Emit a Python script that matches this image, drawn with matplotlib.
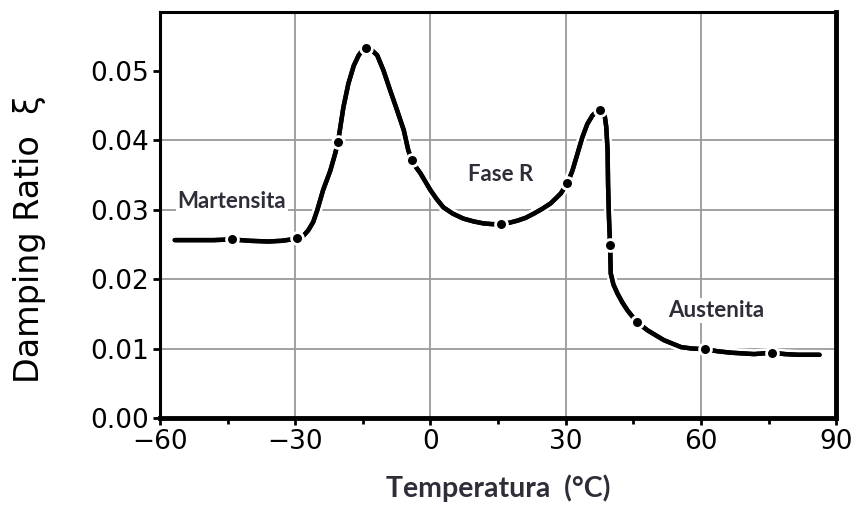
import matplotlib
matplotlib.use("Agg")
import matplotlib.pyplot as plt
import matplotlib.patheffects as pe

# curve (temperature in C, damping ratio)
curve_t = [-56.7, -52.0, -48.0, -44.1, -40.0, -36.0, -33.0, -30.8, -29.6, -28.2,
           -27.1, -26.0, -25.1, -23.8, -22.2, -21.1, -20.5, -19.3, -18.2, -17.0,
           -15.9, -15.1, -14.2, -13.1, -11.8, -10.4, -8.9, -7.4, -5.9, -4.9,
           -4.1, -3.2, -2.2, -1.1, 0.0, 1.4, 2.9, 5.0, 7.3, 9.5,
           11.8, 13.7, 15.6, 17.5, 19.3, 21.1, 22.9, 24.8, 26.7, 28.9,
           30.4, 31.5, 32.6, 33.7, 34.8, 35.9, 36.8, 37.6, 38.3, 38.7,
           39.0, 39.3, 39.4, 39.6, 39.85, 40.0, 40.6, 41.5, 42.6, 43.7,
           45.8, 48.2, 51.8, 55.6, 58.0, 60.9, 63.8, 66.7, 69.2, 71.8,
           73.8, 75.7, 78.6, 81.5, 86.3]
curve_d = [0.0256, 0.0256, 0.0256, 0.0257, 0.0255, 0.0254, 0.0255, 0.0257, 0.0259, 0.0262,
           0.0270, 0.0282, 0.0299, 0.0328, 0.0356, 0.0381, 0.0397, 0.0447, 0.0481, 0.0507,
           0.0522, 0.0529, 0.0533, 0.0530, 0.0522, 0.0500, 0.0471, 0.0443, 0.0414, 0.0385,
           0.0371, 0.0361, 0.0352, 0.0340, 0.0328, 0.0315, 0.0303, 0.0294, 0.0287, 0.0283,
           0.0280, 0.0279, 0.0279, 0.0281, 0.0284, 0.0288, 0.0294, 0.0301, 0.0309, 0.0323,
           0.0338, 0.0356, 0.0380, 0.0404, 0.0423, 0.0435, 0.0441, 0.0443, 0.0440, 0.0433,
           0.0419, 0.0385, 0.0337, 0.0289, 0.0249, 0.0208, 0.0192, 0.0179, 0.0166, 0.0155,
           0.0138, 0.0126, 0.0112, 0.0102, 0.0100, 0.0099, 0.0096, 0.0094, 0.0093, 0.0092,
           0.0093, 0.0094, 0.0092, 0.0091, 0.0091]

# measured points
point_t = [-44.1, -29.6, -20.5, -14.2, -4.1, 15.6, 30.4, 37.6, 39.85, 45.8, 60.9, 75.7]
point_d = [0.0257, 0.0259, 0.0397, 0.0533, 0.0371, 0.0279, 0.0338, 0.0443, 0.0249,
           0.0138, 0.0099, 0.0094]

phase_labels = ["Martensita", "Fase R", "Austenita"]
phase_t = [-44.0, 15.6, 63.3]
phase_d = [0.0312, 0.0351, 0.0155]

temp_ticks = [-60, -30, 0, 30, 60, 90]
temp_minor = [-45, -15, 15, 45, 75]
damp_ticks = [0.0, 0.01, 0.02, 0.03, 0.04, 0.05]

fig = plt.figure(figsize=(8.55, 5.07), dpi=100)
ax = fig.add_axes([0.187, 0.1755, 0.791, 0.8005])

ax.plot(curve_t, curve_d, color="black", lw=3.2, solid_capstyle="round",
        solid_joinstyle="round",
        path_effects=[pe.withStroke(linewidth=7, foreground="white"), pe.Normal()],
        zorder=3)
ax.plot(point_t, point_d, "o", color="black", ms=8.5, mec="white", mew=2, zorder=4)

for label, t, d in zip(phase_labels, phase_t, phase_d):
    ax.text(t, d, label, ha="center", va="center", fontsize=16,
            fontweight="bold", family="Lato", color="#2e2e38",
            bbox=dict(facecolor="white", edgecolor="none", pad=1.5), zorder=5)

ax.set_xlim(-60, 90)
ax.set_ylim(0, 0.0584)
ax.set_xticks(temp_ticks)
ax.set_xticks(temp_minor, minor=True)
ax.set_xticklabels([str(t).replace("-", "\u2212") for t in temp_ticks])
ax.set_yticks(damp_ticks)
ax.set_yticklabels([f"{d:.2f}" for d in damp_ticks])

for x in [-30, 0, 30, 60]:
    ax.axvline(x, color="#9a9a9a", lw=1.3, zorder=1)
for y in [0.01, 0.02, 0.03, 0.04]:
    ax.axhline(y, color="#9a9a9a", lw=1.3, zorder=1)

ax.tick_params(axis="both", which="major", direction="out", length=5, width=2,
               labelsize=19, pad=3)
ax.tick_params(axis="x", which="minor", direction="out", length=4, width=2)

ax.spines["left"].set_linewidth(2.2)
ax.spines["top"].set_linewidth(2.2)
ax.spines["bottom"].set_linewidth(3.5)
ax.spines["right"].set_linewidth(3.5)

ax.set_xlabel("Temperatura  (°C)", fontsize=20.5, fontweight="bold", family="Lato",
              color="#2e2e38", labelpad=14)
ax.set_ylabel("Damping Ratio  \u03be", fontsize=24)
ax.yaxis.set_label_coords(-0.168, 0.44)

fig.savefig("out.png", dpi=100)
